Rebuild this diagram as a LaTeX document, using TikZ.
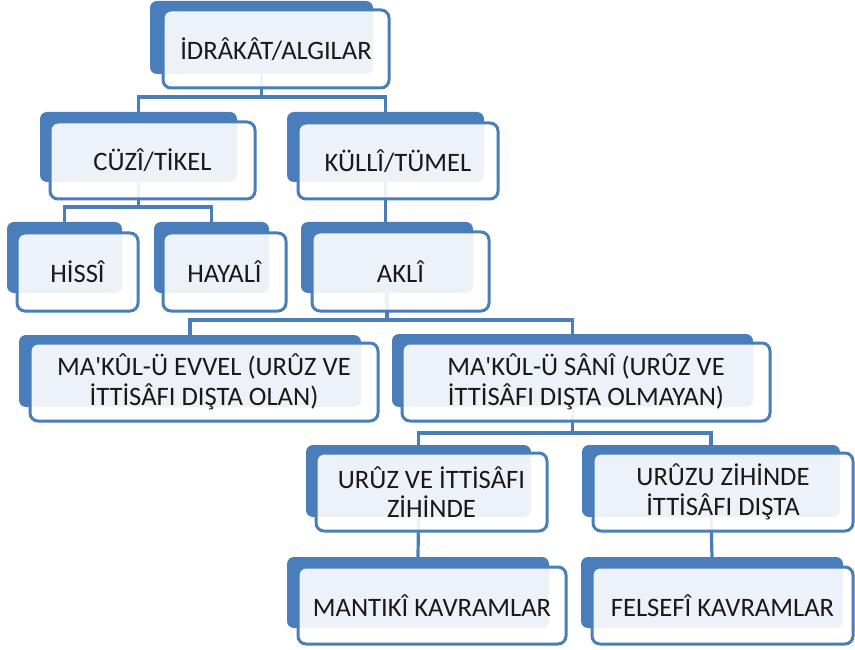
\documentclass[tikz,border=0pt]{standalone}
\usepackage{fontspec}
\newfontfamily\smfont{Carlito}
\usetikzlibrary{fit,backgrounds}
\definecolor{smblue}{HTML}{4A7EBB}
\begin{document}
\begin{tikzpicture}[x=1pt,y=-1pt,
  backbox/.style={fill=smblue, draw=none, rounded corners=7pt, inner sep=0pt, outer sep=0pt},
  frontbox/.style={fill=white, fill opacity=0.9, draw=smblue, line width=3pt, rounded corners=8pt, inner sep=0pt, outer sep=0pt},
  conn/.style={draw=smblue, line width=3.2pt},
  lbl/.style={font=\smfont\fontsize{26.6}{29.5}\selectfont, align=center, text=black!90, inner sep=0pt}]
\useasboundingbox (0,0) rectangle (855,650);
% 1
\node[backbox, fit={(150,1) (373,74)}] (b1) {};
\node[frontbox, fit={(163,10) (389,88)}] (f1) {};
\node[lbl] (t1) at (f1.center) {İDRÂKÂT/ALGILAR};
% 2
\node[backbox, fit={(40,112) (237,182)}] (b2) {};
\node[frontbox, fit={(50,122) (255,199)}] (f2) {};
\node[lbl] (t2) at (f2.center) {CÜZÎ/TİKEL};
% 3
\node[backbox, fit={(287,112) (484,182)}] (b3) {};
\node[frontbox, fit={(298,123) (498,199)}] (f3) {};
\node[lbl] (t3) at (f3.center) {KÜLLÎ/TÜMEL};
% 4
\node[backbox, fit={(7,222) (122,293)}] (b4) {};
\node[frontbox, fit={(17,233) (138,311)}] (f4) {};
\node[lbl] (t4) at (f4.center) {HİSSÎ};
% 5
\node[backbox, fit={(154,222) (269,293)}] (b5) {};
\node[frontbox, fit={(163,233) (286,311)}] (f5) {};
\node[lbl] (t5) at (f5.center) {HAYALÎ};
% 6
\node[backbox, fit={(301,222) (473,293)}] (b6) {};
\node[frontbox, fit={(312,232) (489,311)}] (f6) {};
\node[lbl] (t6) at (f6.center) {AKLÎ};
% 7
\node[backbox, fit={(19,335) (361,407)}] (b7) {};
\node[frontbox, fit={(30,343) (378,421)}] (f7) {};
\node[lbl] (t7) at (f7.center) {MA'KÛL-Ü EVVEL (URÛZ VE\\İTTİSÂFI DIŞTA OLAN)};
% 8
\node[backbox, fit={(392,334) (753,407)}] (b8) {};
\node[frontbox, fit={(402,343) (770,421)}] (f8) {};
\node[lbl] (t8) at (f8.center) {MA'KÛL-Ü SÂNÎ (URÛZ VE\\İTTİSÂFI DIŞTA OLMAYAN)};
% 9
\node[backbox, fit={(306,445) (531,517)}] (b9) {};
\node[frontbox, fit={(316,453) (547,531)}] (f9) {};
\node[lbl] (t9) at (f9.center) {URÛZ VE İTTİSÂFI\\ZİHİNDE};
% 10
\node[backbox, fit={(582,445) (840,517)}] (b10) {};
\node[frontbox, fit={(593,453) (853,531)}] (f10) {};
\node[lbl] (t10) at (f10.center) {URÛZU ZİHİNDE\\İTTİSÂFI DIŞTA};
% 11
\node[backbox, fit={(287,557) (549,628)}] (b11) {};
\node[frontbox, fit={(298,567) (566,644)}] (f11) {};
\node[lbl] (t11) at (f11.center) {MANTIKÎ KAVRAMLAR};
% 12
\node[backbox, fit={(581,557) (843,628)}] (b12) {};
\node[frontbox, fit={(592,567) (853,644)}] (f12) {};
\node[lbl] (t12) at (f12.center) {FELSEFÎ KAVRAMLAR};
% connectors
\begin{scope}[on background layer]
  \path (b1.south) ++(0,23) coordinate (bus1);
  \draw[conn] (b1.south) -- (bus1);
  \draw[conn] (b2.north) |- (bus1) -| (b3.north);
  \path (b2.south) ++(0,25) coordinate (bus2);
  \draw[conn] (b2.south) -- (bus2);
  \draw[conn] (b4.north) |- (bus2) -| (b5.north);
  \draw[conn] (b3.south) -- (b3.south |- b6.north);
  \path (b6.south) ++(0,27) coordinate (bus6);
  \draw[conn] (b6.south) -- (bus6);
  \draw[conn] (b7.north) |- (bus6) -| (b8.north);
  \path (b8.south) ++(0,26) coordinate (bus8);
  \draw[conn] (b8.south) -- (bus8);
  \draw[conn] (b9.north) |- (bus8) -| (b10.north);
  \draw[conn] (b9.south) -- (b11.north);
  \draw[conn] (b10.south) -- (b12.north);
\end{scope}
\end{tikzpicture}
\end{document}
